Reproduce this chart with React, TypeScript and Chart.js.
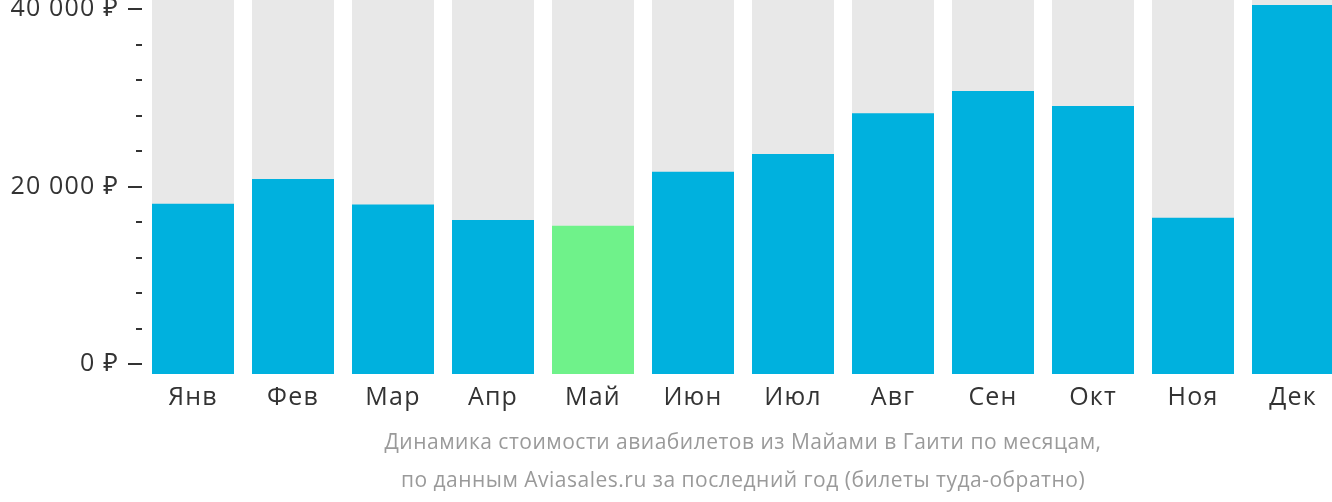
import React, { useEffect, useRef } from "react";
import { Chart, registerables } from "chart.js";

Chart.register(...registerables);

const MONTHS = ["Янв", "Фев", "Мар", "Апр", "Май", "Июн", "Июл", "Авг", "Сен", "Окт", "Ноя", "Дек"];
const PRICES = [18100, 20880, 18000, 16260, 15600, 21700, 23700, 28300, 30800, 29100, 16500, 40500];
const BAR_COLORS = ["#00b1de", "#00b1de", "#00b1de", "#00b1de", "#6ff28a", "#00b1de", "#00b1de", "#00b1de", "#00b1de", "#00b1de", "#00b1de", "#00b1de"];
const MAJOR_TICKS = [0, 20000, 40000];
const MINOR_TICKS = [4000, 8000, 12000, 16000, 24000, 28000, 32000, 36000];
const Y_MIN = -1100;
const Y_MAX = 41050;
const BACKGROUND = MONTHS.map(() => Y_MAX);
const TITLE_LINES = [
  "Динамика стоимости авиабилетов из Майами в Гаити по месяцам,",
  "по данным Aviasales.ru за последний год (билеты туда-обратно)",
];

const FONT = "'Open Sans', 'Noto Sans', sans-serif";

const formatRub = (v: number) => {
  const s = String(Math.round(v)).replace(/\B(?=(\d{3})+(?!\d))/g, " ");
  return s + " ₽";
};

const withSpacing = (s: any, spacing: string) => {
  if (s._spacingPatched) return;
  const orig = s.drawLabels;
  s.drawLabels = function (area: any) {
    const ctx = this.ctx;
    const prev = ctx.letterSpacing;
    ctx.letterSpacing = spacing;
    orig.call(this, area);
    ctx.letterSpacing = prev || "0px";
  };
  s._spacingPatched = true;
};

const decorPlugin = {
  id: "decor",
  afterDraw(chart: any) {
    const ctx = chart.ctx;
    const y = chart.scales.y;
    const area = chart.chartArea;
    ctx.save();
    ctx.strokeStyle = "#333333";
    ctx.lineWidth = 2;
    ctx.beginPath();
    MAJOR_TICKS.forEach((t) => {
      const py = Math.round(y.getPixelForValue(t));
      ctx.moveTo(area.left - 15, py);
      ctx.lineTo(area.left - 1, py);
    });
    MINOR_TICKS.forEach((t) => {
      const py = Math.round(y.getPixelForValue(t));
      ctx.moveTo(area.left - 7, py);
      ctx.lineTo(area.left - 1, py);
    });
    ctx.stroke();
    ctx.fillStyle = "#9a9a9a";
    ctx.font = `21px ${FONT}`;
    ctx.letterSpacing = "0.5px";
    ctx.textAlign = "center";
    ctx.textBaseline = "middle";
    const cx = (area.left + area.right) / 2;
    ctx.fillText(TITLE_LINES[0], cx, area.bottom + 69);
    ctx.fillText(TITLE_LINES[1], cx, area.bottom + 107);
    ctx.restore();
  },
};

export default function App() {
  const ref = useRef<HTMLCanvasElement>(null);
  useEffect(() => {
    document.body.style.margin = "0";
    document.body.style.overflow = "hidden";
    const chart = new Chart(ref.current!, {
      type: "bar",
      data: {
        labels: MONTHS,
        datasets: [
          {
            data: PRICES,
            backgroundColor: BAR_COLORS,
            base: Y_MIN,
            grouped: false,
            order: 1,
            categoryPercentage: 1,
            barPercentage: 0.82,
          } as any,
          {
            data: BACKGROUND,
            backgroundColor: "#e8e8e8",
            base: Y_MIN,
            grouped: false,
            order: 2,
            categoryPercentage: 1,
            barPercentage: 0.82,
          } as any,
        ],
      },
      options: {
        animation: false,
        responsive: false,
        layout: { padding: 0 },
        plugins: { legend: { display: false }, tooltip: { enabled: false }, title: { display: false } },
        scales: {
          x: {
            grid: { display: false },
            border: { display: false },
            ticks: { color: "#333333", font: { family: FONT, size: 25 }, padding: 1 },
            afterFit: (s: any) => {
              s.height = 128;
              s.paddingLeft = 0;
              s.paddingRight = 0;
              withSpacing(s, "1.2px");
            },
          },
          y: {
            min: Y_MIN,
            max: Y_MAX,
            grid: { display: false, drawTicks: false },
            border: { display: false },
            ticks: {
              color: "#333333",
              font: { family: FONT, size: 25 },
              padding: 24,
              callback: (v: any) => formatRub(Number(v)),
            },
            afterBuildTicks: (s: any) => {
              s.ticks = MAJOR_TICKS.map((value) => ({ value }));
            },
            afterFit: (s: any) => {
              s.width = 143;
              s.paddingTop = 0;
              s.paddingBottom = 0;
              withSpacing(s, "1.2px");
            },
          },
        },
      },
      plugins: [decorPlugin],
    });
    return () => chart.destroy();
  }, []);
  return (
    <div style={{ width: 1332, height: 502, overflow: "hidden" }}>
      <canvas ref={ref} width={1343} height={502} style={{ display: "block" }} />
    </div>
  );
}
